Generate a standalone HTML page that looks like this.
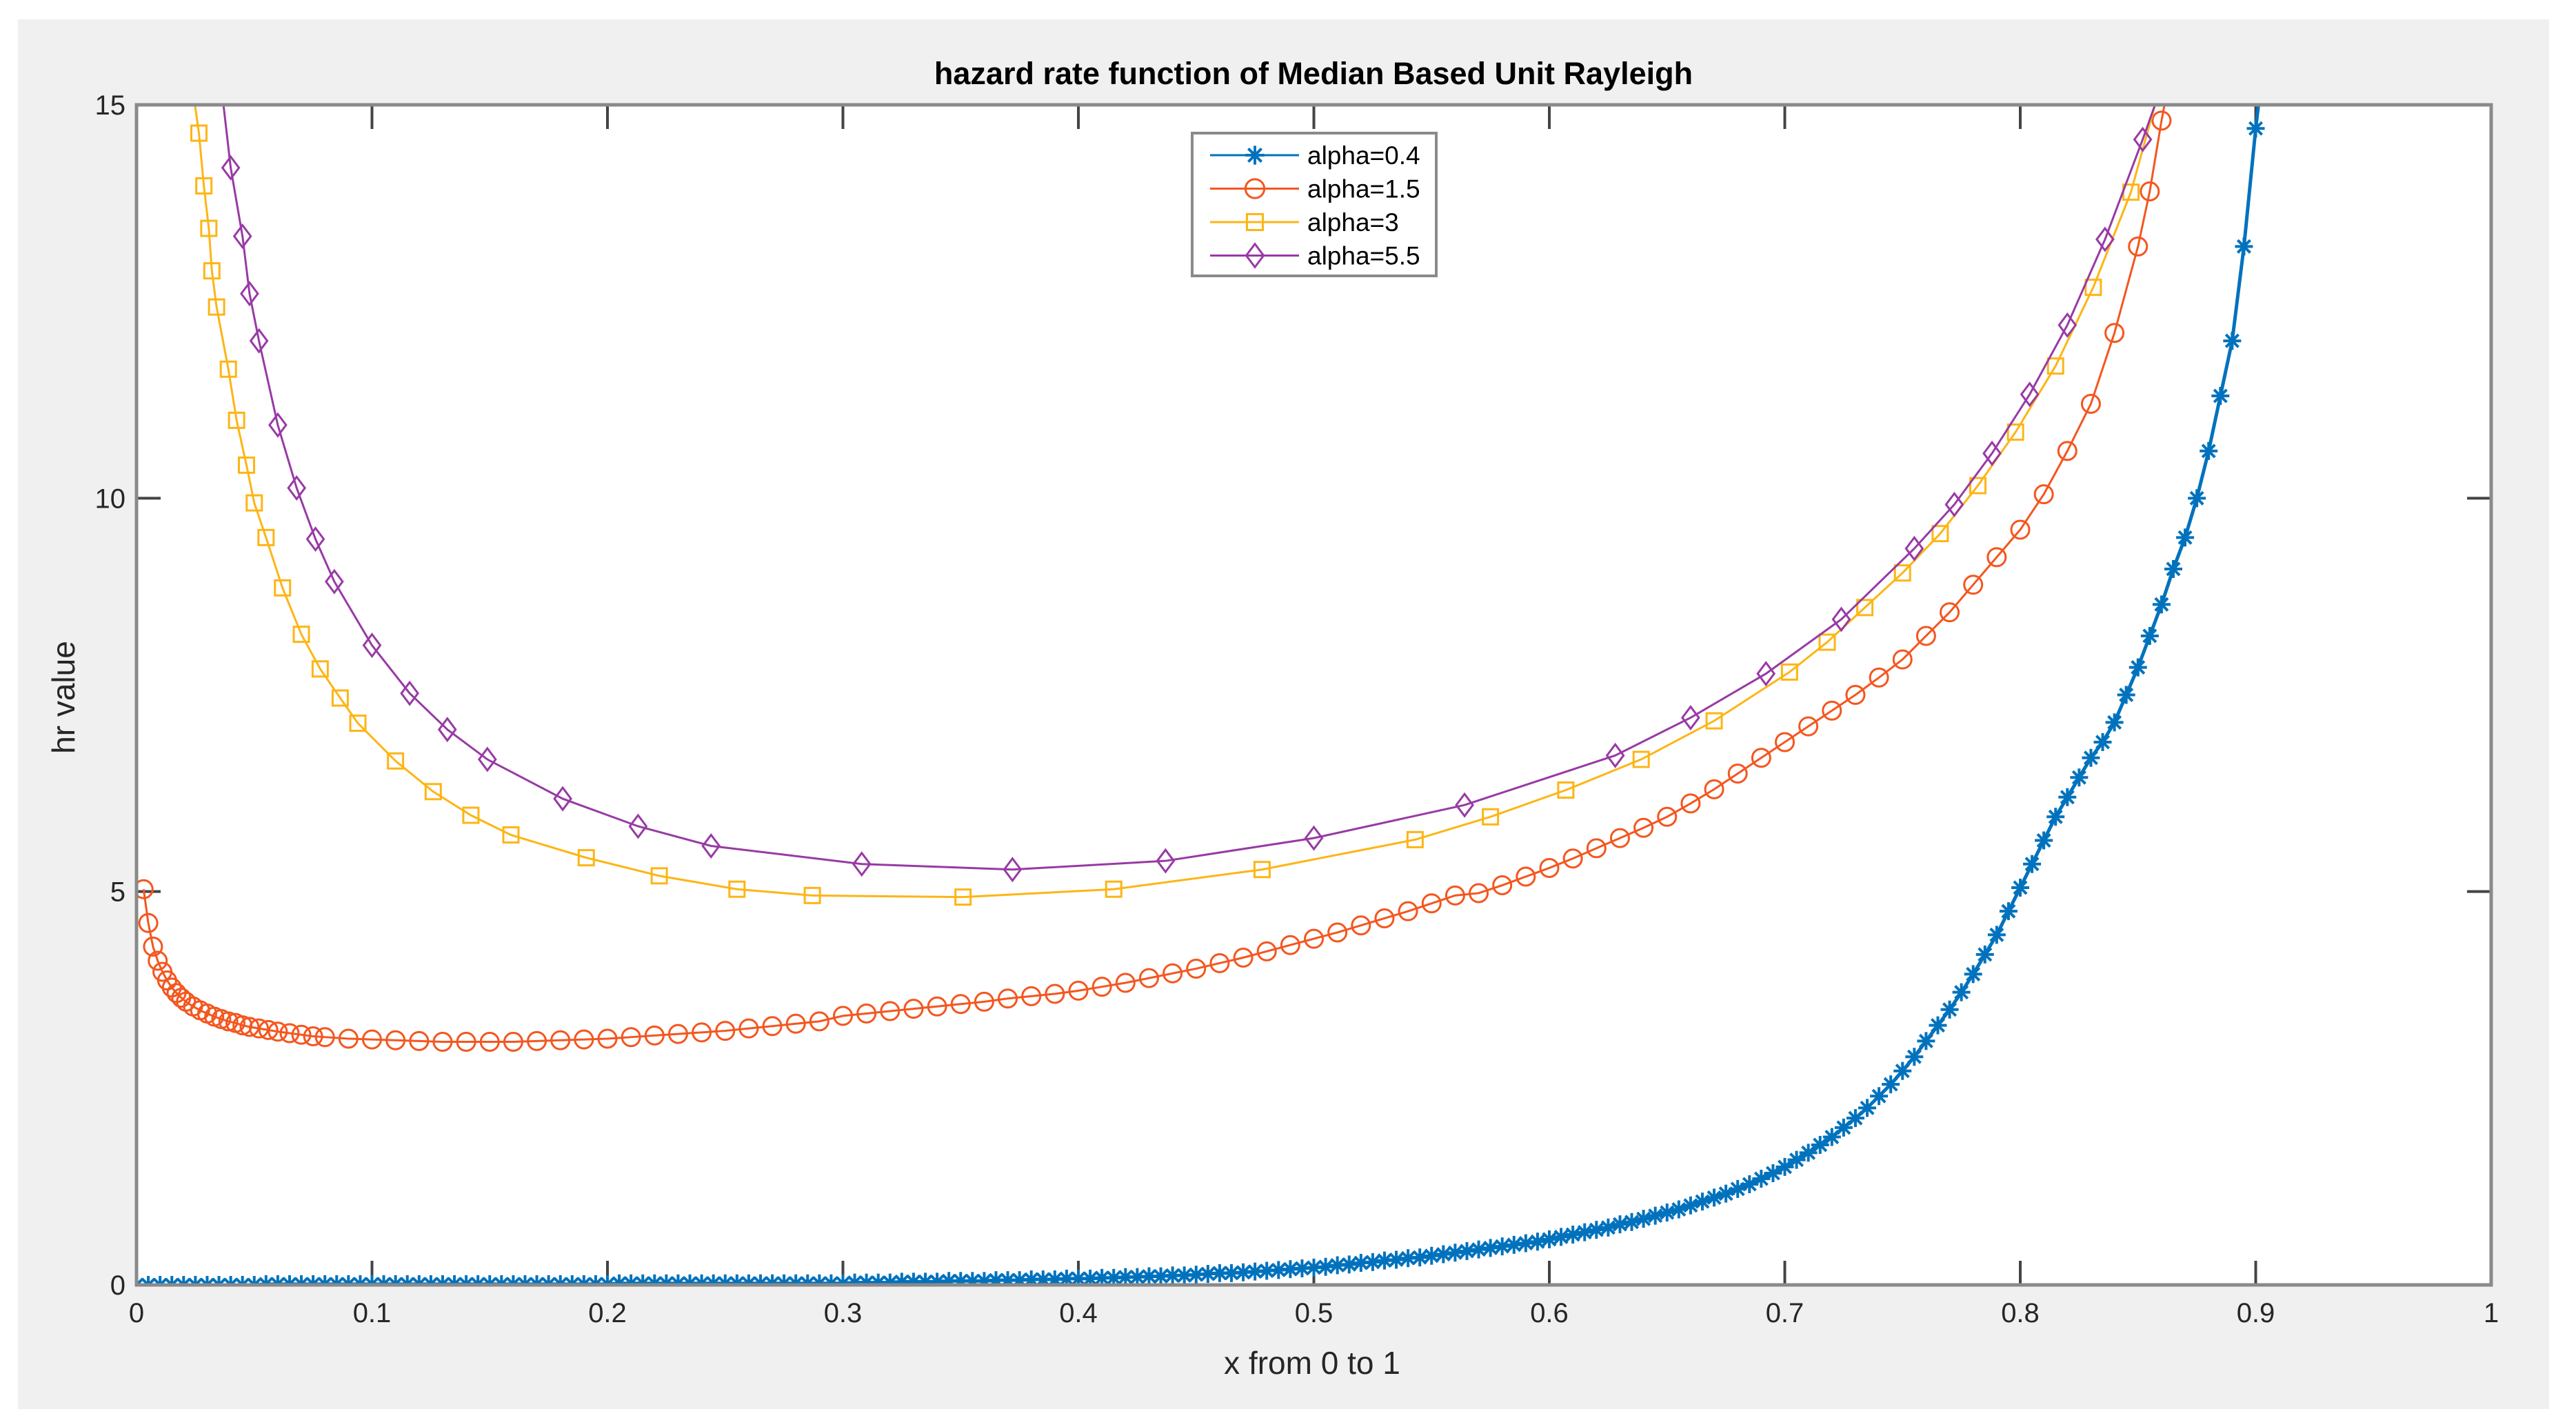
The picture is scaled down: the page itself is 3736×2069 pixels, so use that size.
<!DOCTYPE html>
<html><head><meta charset="utf-8"><style>
html,body{margin:0;padding:0;background:#fff;}
svg{display:block;font-family:"Liberation Sans",sans-serif;}
</style></head><body>
<svg id="chart" width="3736" height="2069" viewBox="0 0 3736 2069">
<rect x="26" y="28" width="3671" height="2015" fill="#f0f0f0"/>
<rect x="198" y="152" width="3415" height="1711" fill="#fff"/>
<defs><clipPath id="clip"><rect x="198" y="152" width="3415" height="1711"/></clipPath></defs>
<g id="grid"></g>
<g id="series" clip-path="url(#clip)"></g>
<rect x="198" y="152" width="3415" height="1711" fill="none" stroke="#8a8a8a" stroke-width="5"/>
<g id="labels"></g>
<text x="1905" y="122" text-anchor="middle" font-size="45" font-weight="bold" fill="#000">hazard rate function of Median Based Unit Rayleigh</text>
<text x="1903" y="1992" text-anchor="middle" font-size="46" fill="#262626">x from 0 to 1</text>
<text transform="translate(108,1011) rotate(-90)" text-anchor="middle" font-size="46" fill="#262626">hr value</text>
<g id="legend"></g>
</svg>
<script>
const xTicks=[0,0.1,0.2,0.3,0.4,0.5,0.6,0.7,0.8,0.9,1];
const xTickLabels=["0","0.1","0.2","0.3","0.4","0.5","0.6","0.7","0.8","0.9","1"];
const yTicks=[0,5,10,15];
const yTickLabels=["0","5","10","15"];
const seriesNames=["alpha=0.4","alpha=1.5","alpha=3","alpha=5.5"];
const blueX=[0,0.005,0.01,0.015,0.02,0.025,0.03,0.035,0.04,0.045,0.05,0.055,0.06,0.065,0.07,0.075,0.08,0.085,0.09,0.095,0.1,0.105,0.11,0.115,0.12,0.125,0.13,0.135,0.14,0.145,0.15,0.155,0.16,0.165,0.17,0.175,0.18,0.185,0.19,0.195,0.2,0.205,0.21,0.215,0.22,0.225,0.23,0.235,0.24,0.245,0.25,0.255,0.26,0.265,0.27,0.275,0.28,0.285,0.29,0.295,0.3,0.305,0.31,0.315,0.32,0.325,0.33,0.335,0.34,0.345,0.35,0.355,0.36,0.365,0.37,0.375,0.38,0.385,0.39,0.395,0.4,0.405,0.41,0.415,0.42,0.425,0.43,0.435,0.44,0.445,0.45,0.455,0.46,0.465,0.47,0.475,0.48,0.485,0.49,0.495,0.5,0.505,0.51,0.515,0.52,0.525,0.53,0.535,0.54,0.545,0.55,0.555,0.56,0.565,0.57,0.575,0.58,0.585,0.59,0.595,0.6,0.605,0.61,0.615,0.62,0.625,0.63,0.635,0.64,0.645,0.65,0.655,0.66,0.665,0.67,0.675,0.68,0.685,0.69,0.695,0.7,0.705,0.71,0.715,0.72,0.725,0.73,0.735,0.74,0.745,0.75,0.755,0.76,0.765,0.77,0.775,0.78,0.785,0.79,0.795,0.8,0.805,0.81,0.815,0.82,0.825,0.83,0.835,0.84,0.845,0.85,0.855,0.86,0.865,0.87,0.875,0.88,0.885,0.89,0.895,0.9,0.905];
const blueY=[0,0,0,0,0,0,0,0,0,0,0,0.01,0.01,0.01,0.01,0.01,0.01,0.01,0.01,0.01,0.01,0.01,0.01,0.01,0.01,0.01,0.01,0.01,0.01,0.01,0.01,0.01,0.01,0.01,0.01,0.01,0.01,0.01,0.01,0.01,0.01,0.02,0.02,0.02,0.02,0.02,0.02,0.02,0.02,0.02,0.02,0.02,0.02,0.02,0.02,0.02,0.02,0.02,0.02,0.02,0.02,0.03,0.03,0.03,0.03,0.04,0.04,0.04,0.04,0.05,0.05,0.05,0.05,0.06,0.06,0.06,0.07,0.07,0.07,0.08,0.08,0.08,0.09,0.09,0.1,0.1,0.11,0.11,0.12,0.12,0.13,0.14,0.15,0.15,0.16,0.17,0.18,0.19,0.2,0.21,0.22,0.23,0.25,0.26,0.28,0.29,0.31,0.32,0.34,0.35,0.37,0.39,0.41,0.43,0.45,0.47,0.49,0.51,0.53,0.55,0.58,0.61,0.64,0.67,0.7,0.73,0.77,0.8,0.84,0.88,0.92,0.96,1.01,1.06,1.11,1.16,1.22,1.28,1.35,1.42,1.5,1.59,1.68,1.78,1.88,2.0,2.12,2.25,2.4,2.55,2.72,2.9,3.1,3.3,3.5,3.72,3.95,4.2,4.45,4.75,5.05,5.35,5.65,5.95,6.2,6.45,6.7,6.9,7.15,7.5,7.85,8.25,8.65,9.1,9.5,10.0,10.6,11.3,12.0,13.2,14.7,16.0];
const orangeX=[0.003,0.005,0.007,0.009,0.011,0.013,0.015,0.017,0.019,0.021,0.024,0.027,0.03,0.033,0.036,0.039,0.042,0.045,0.048,0.052,0.056,0.06,0.065,0.07,0.075,0.08,0.09,0.1,0.11,0.12,0.13,0.14,0.15,0.16,0.17,0.18,0.19,0.2,0.21,0.22,0.23,0.24,0.25,0.26,0.27,0.28,0.29,0.3,0.31,0.32,0.33,0.34,0.35,0.36,0.37,0.38,0.39,0.4,0.41,0.42,0.43,0.44,0.45,0.46,0.47,0.48,0.49,0.5,0.51,0.52,0.53,0.54,0.55,0.56,0.57,0.58,0.59,0.6,0.61,0.62,0.63,0.64,0.65,0.66,0.67,0.68,0.69,0.7,0.71,0.72,0.73,0.74,0.75,0.76,0.77,0.78,0.79,0.8,0.81,0.82,0.83,0.84,0.85,0.855,0.86,0.865];
const orangeY=[5.03,4.6,4.3,4.12,3.98,3.87,3.78,3.71,3.65,3.6,3.54,3.49,3.45,3.41,3.38,3.35,3.33,3.3,3.28,3.26,3.24,3.22,3.2,3.18,3.16,3.15,3.13,3.12,3.11,3.1,3.09,3.09,3.09,3.09,3.1,3.11,3.12,3.13,3.15,3.17,3.19,3.21,3.23,3.26,3.29,3.32,3.35,3.42,3.45,3.48,3.51,3.54,3.57,3.6,3.64,3.67,3.7,3.74,3.79,3.84,3.9,3.96,4.02,4.09,4.16,4.24,4.32,4.4,4.48,4.57,4.66,4.75,4.85,4.95,4.98,5.08,5.19,5.3,5.42,5.55,5.68,5.81,5.95,6.12,6.3,6.5,6.7,6.9,7.1,7.3,7.5,7.72,7.95,8.25,8.55,8.9,9.25,9.6,10.05,10.6,11.2,12.1,13.2,13.9,14.8,15.6];
const yellowX=[0.022,0.0265,0.0286,0.0307,0.032,0.034,0.039,0.0425,0.0467,0.05,0.055,0.062,0.07,0.078,0.0865,0.094,0.11,0.126,0.142,0.159,0.191,0.222,0.255,0.287,0.351,0.415,0.478,0.543,0.575,0.607,0.639,0.67,0.702,0.718,0.734,0.75,0.766,0.782,0.798,0.815,0.831,0.847,0.86];
const yellowY=[15.6,14.64,13.97,13.43,12.89,12.43,11.64,10.99,10.42,9.94,9.5,8.86,8.27,7.83,7.46,7.14,6.66,6.27,5.97,5.72,5.43,5.2,5.03,4.95,4.93,5.03,5.28,5.66,5.95,6.29,6.68,7.17,7.79,8.17,8.61,9.05,9.55,10.16,10.84,11.68,12.68,13.89,15.3];
const purpleX=[0.035,0.04,0.045,0.048,0.052,0.06,0.068,0.076,0.084,0.1,0.116,0.132,0.149,0.181,0.213,0.244,0.308,0.372,0.437,0.5,0.564,0.628,0.66,0.692,0.724,0.755,0.772,0.788,0.804,0.82,0.836,0.852,0.862];
const purpleY=[15.5,14.2,13.33,12.6,12.0,10.93,10.13,9.48,8.94,8.13,7.52,7.06,6.68,6.18,5.83,5.58,5.35,5.28,5.39,5.68,6.1,6.73,7.21,7.77,8.46,9.36,9.92,10.57,11.32,12.2,13.29,14.56,15.4];

const NS="http://www.w3.org/2000/svg";
const L=198,R=3613,T=152,B=1863;
function sx(v){return L+v*(R-L);}
function sy(v){return B-(v/15)*(B-T);}
function mk(tag,attrs,parent){const e=document.createElementNS(NS,tag);for(const k in attrs)e.setAttribute(k,attrs[k]);parent.appendChild(e);return e;}
const grid=document.getElementById('grid'),labels=document.getElementById('labels'),series=document.getElementById('series'),legend=document.getElementById('legend');
xTicks.forEach((t,i)=>{
  const x=sx(t);
  const a=mk('line',{x1:x,y1:B,x2:x,y2:B-35,stroke:'#444','stroke-width':4},grid);
  
  
  const b=mk('line',{x1:x,y1:T,x2:x,y2:T+35,stroke:'#444','stroke-width':4},grid);
  
  
  const tx=mk('text',{x:x,y:1917,'text-anchor':'middle','font-size':40,fill:'#262626'},labels);
  tx.textContent=xTickLabels[i];
  
  
});
yTicks.forEach((t,i)=>{
  const y=sy(t);
  const a=mk('line',{x1:L,y1:y,x2:L+35,y2:y,stroke:'#444','stroke-width':4},grid);
  
  
  const b=mk('line',{x1:R,y1:y,x2:R-35,y2:y,stroke:'#444','stroke-width':4},grid);
  
  
  const tx=mk('text',{x:182,y:y+14,'text-anchor':'end','font-size':40,fill:'#262626'},labels);
  tx.textContent=yTickLabels[i];
  
  
});
function marker(type,x,y,c,parent,s){
  s=s||1;
  if(type==='star'){
    const r=13*s;
    const d=`M${x-r},${y}L${x+r},${y}M${x},${y-r}L${x},${y+r}M${x-r*0.7},${y-r*0.7}L${x+r*0.7},${y+r*0.7}M${x-r*0.7},${y+r*0.7}L${x+r*0.7},${y-r*0.7}`;
    return mk('path',{d:d,stroke:c,'stroke-width':4,fill:'none'},parent);
  }
  if(type==='circle')return mk('circle',{cx:x,cy:y,r:13*s,stroke:c,'stroke-width':3,fill:'none'},parent);
  if(type==='square')return mk('rect',{x:x-11*s,y:y-11*s,width:22*s,height:22*s,stroke:c,'stroke-width':3,fill:'none'},parent);
  return mk('path',{d:`M${x},${y-16*s}L${x+12*s},${y}L${x},${y+16*s}L${x-12*s},${y}Z`,stroke:c,'stroke-width':3,fill:'none'},parent);
}
const defs=[
  {xs:blueX,ys:blueY,c:'#0072BD',m:'star'},
  {xs:orangeX,ys:orangeY,c:'#F4561F',m:'circle'},
  {xs:yellowX,ys:yellowY,c:'#FDB515',m:'square'},
  {xs:purpleX,ys:purpleY,c:'#983AA5',m:'diamond'}
];
defs.forEach((d,k)=>{
  const g=mk('g',{},series);
  
  
  const pts=d.xs.map((v,i)=>sx(v)+','+sy(d.ys[i])).join(' ');
  const pl=mk('polyline',{points:pts,fill:'none',stroke:d.c,'stroke-width':k===0?5:3},g);
  
  
  d.xs.forEach((v,i)=>{
    const m=marker(d.m,sx(v),sy(d.ys[i]),d.c,g);
    
    
  });
});
const box=mk('rect',{x:1729,y:193,width:354,height:207,fill:'#fff',stroke:'#8a8a8a','stroke-width':4},legend);


defs.forEach((d,k)=>{
  const y=225+k*48.5;
  const g=mk('g',{},legend);
  
  
  mk('line',{x1:1755,y1:y,x2:1884,y2:y,stroke:d.c,'stroke-width':3},g);
  marker(d.m,1820,y,d.c,g,1.05);
  const t=mk('text',{x:1896,y:y+13,'font-size':37,fill:'#000'},g);
  t.textContent=seriesNames[k];
});
</script>
</body></html>
